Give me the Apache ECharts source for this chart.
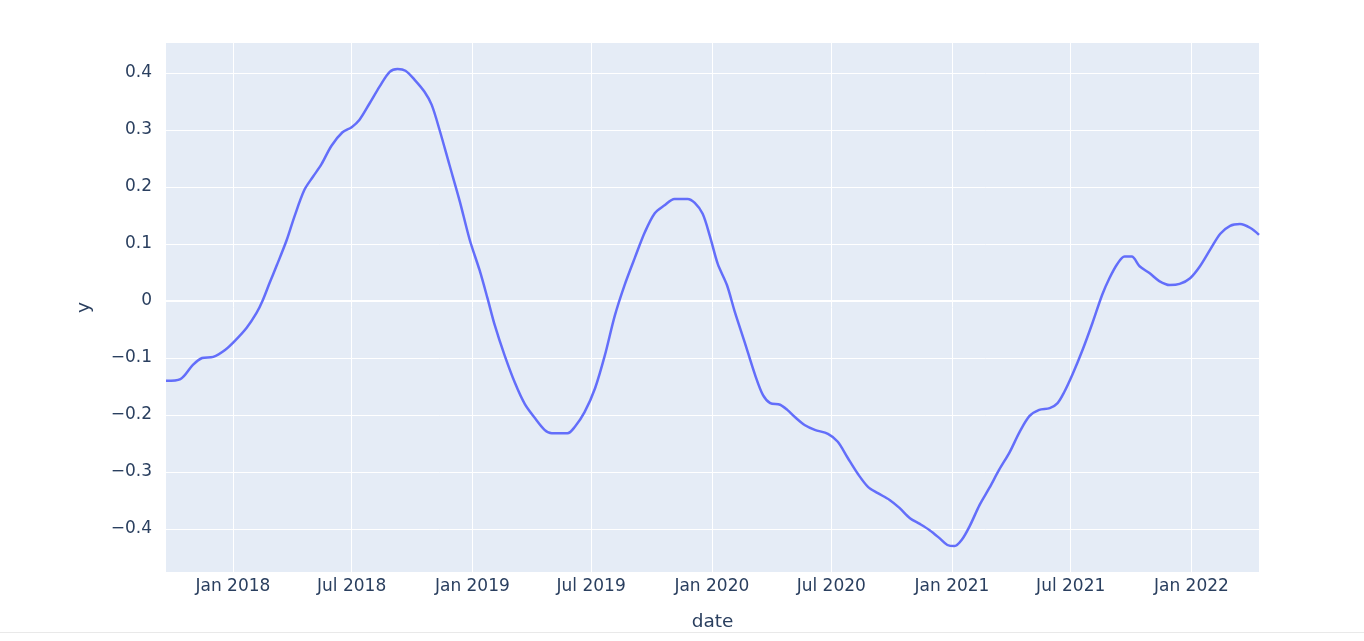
<!DOCTYPE html>
<html>
<head>
<meta charset="utf-8">
<script src="https://cdn.jsdelivr.net/npm/echarts@6/dist/echarts.min.js"></script>
<style>
  html, body { margin: 0; padding: 0; background: #fff; }
  #chart { width: 1364px; height: 641px; }
  .edge { position: absolute; left: 0; top: 632px; width: 1364px; height: 1px; background: #e9e9e9; }
</style>
</head>
<body>
<div id="chart"></div>
<div class="edge"></div>
<script>
// values
var dates = [
  '2017-09-21','2017-10-13','2017-11-01','2017-11-15','2017-12-02','2017-12-20',
  '2018-01-04','2018-01-22','2018-02-06','2018-02-15','2018-02-26','2018-03-09','2018-03-24',
  '2018-04-05','2018-04-20','2018-05-03','2018-05-16','2018-05-31','2018-06-17','2018-07-01',
  '2018-07-13','2018-07-28','2018-08-13','2018-08-28','2018-09-09','2018-09-21','2018-10-05',
  '2018-10-20','2018-10-31','2018-11-12','2018-11-27','2018-12-13','2018-12-28',
  '2019-01-12','2019-01-24','2019-02-04','2019-02-19','2019-03-07','2019-03-22','2019-04-06',
  '2019-04-21','2019-05-02','2019-05-26','2019-06-06','2019-06-21','2019-07-07','2019-07-22',
  '2019-08-06','2019-08-21','2019-09-06','2019-09-21','2019-10-06','2019-10-21','2019-11-05',
  '2019-11-25','2019-12-06','2019-12-18','2019-12-29',
  '2020-01-10','2020-01-24','2020-02-05','2020-02-20','2020-03-07','2020-03-19','2020-03-30',
  '2020-04-14','2020-04-25','2020-05-07','2020-05-22','2020-06-06','2020-06-26','2020-07-11',
  '2020-07-26','2020-08-11','2020-08-26','2020-09-10','2020-09-28','2020-10-13','2020-10-29',
  '2020-11-13','2020-11-28','2020-12-13','2020-12-25',
  '2021-01-05','2021-01-16','2021-01-28','2021-02-12','2021-02-27','2021-03-14','2021-03-30',
  '2021-04-14','2021-04-29','2021-05-14','2021-05-30','2021-06-11','2021-06-21','2021-07-04',
  '2021-07-19','2021-08-03','2021-08-18','2021-08-29','2021-09-10','2021-09-21','2021-10-02',
  '2021-10-14','2021-10-29','2021-11-13','2021-11-29','2021-12-14','2021-12-30',
  '2022-01-14','2022-01-30','2022-02-14','2022-03-01','2022-03-16','2022-04-01','2022-04-14'
];
var yvals = [
  -0.140,-0.137,-0.112,-0.100,-0.098,-0.086,
  -0.070,-0.047,-0.021,0.000,0.032,0.063,0.107,
  0.149,0.195,0.218,0.240,0.272,0.296,0.305,
  0.318,0.346,0.377,0.402,0.407,0.404,0.388,
  0.367,0.344,0.300,0.239,0.174,0.107,
  0.054,0.005,-0.042,-0.095,-0.144,-0.181,-0.205,
  -0.226,-0.232,-0.232,-0.221,-0.195,-0.153,-0.095,
  -0.026,0.028,0.077,0.121,0.154,0.168,0.179,
  0.179,0.172,0.153,0.114,
  0.065,0.028,-0.019,-0.072,-0.130,-0.165,-0.179,
  -0.182,-0.191,-0.204,-0.218,-0.226,-0.233,-0.247,
  -0.275,-0.304,-0.326,-0.337,-0.349,-0.363,-0.381,
  -0.391,-0.402,-0.416,-0.428,
  -0.430,-0.419,-0.395,-0.358,-0.328,-0.296,-0.265,
  -0.230,-0.202,-0.191,-0.188,-0.179,-0.160,-0.128,
  -0.086,-0.039,0.011,0.040,0.065,0.078,0.078,
  0.061,0.049,0.035,0.028,0.030,0.040,
  0.061,0.091,0.118,0.132,0.135,0.128,0.116
];
var xTicks = ['2018-01-01','2018-07-01','2019-01-01','2019-07-01','2020-01-01','2020-07-01','2021-01-01','2021-07-01','2022-01-01'];
var yTicks = [-0.4, -0.3, -0.2, -0.1, 0, 0.1, 0.2, 0.3, 0.4];
var xRange = ['2017-09-21', '2022-04-14'];
var yRange = [-0.4754, 0.4526];

var monthNames = ['Jan','Feb','Mar','Apr','May','Jun','Jul','Aug','Sep','Oct','Nov','Dec'];
function ts(d) { return Date.UTC(+d.slice(0, 4), +d.slice(5, 7) - 1, +d.slice(8, 10)); }
var tickTimes = xTicks.map(ts);

var chart = echarts.init(document.getElementById('chart'), null, { renderer: 'canvas' });
var fontFam = 'DejaVu Sans, sans-serif';
var txtColor = '#2a3f5f';

var option = {
  animation: false,
  backgroundColor: '#fff',
  grid: { left: 166, right: 105, top: 43, bottom: 69, show: true, backgroundColor: '#E5ECF6', borderWidth: 0 },
  xAxis: {
    type: 'value',
    min: ts(xRange[0]),
    max: ts(xRange[1]),
    name: 'date',
    nameLocation: 'middle',
    nameGap: 41,
    nameTextStyle: { color: txtColor, fontSize: 18.5, fontFamily: fontFam },
    axisLine: { show: false },
    axisTick: { show: false, customValues: tickTimes },
    splitLine: { show: true, lineStyle: { color: '#fff', width: 1 } },
    axisLabel: {
      customValues: tickTimes,
      color: txtColor, fontSize: 17, fontFamily: fontFam, margin: 6,
      formatter: function (v) {
        var d = new Date(v);
        return monthNames[d.getUTCMonth()] + ' ' + d.getUTCFullYear();
      }
    }
  },
  yAxis: {
    type: 'value',
    min: yRange[0],
    max: yRange[1],
    name: 'y',
    nameLocation: 'middle',
    nameRotate: 90,
    nameGap: 72,
    nameTextStyle: { color: txtColor, fontSize: 18.5, fontFamily: fontFam },
    axisLine: { show: false },
    axisTick: { show: false, customValues: yTicks },
    splitLine: { show: true, lineStyle: { color: '#fff', width: 1 } },
    axisLabel: {
      customValues: yTicks,
      color: txtColor, fontSize: 17, fontFamily: fontFam, margin: 14,
      padding: [3, 0, 0, 0],
      formatter: function (v) {
        var r = Math.round(v * 10) / 10;
        if (r === 0) return '0';
        return (r < 0 ? '\u2212' : '') + Math.abs(r).toFixed(1);
      }
    }
  },
  series: [
    {
      type: 'line',
      data: [[ts(xRange[0]), 0], [ts(xRange[1]), 0]],
      symbol: 'none',
      silent: true,
      z: 1,
      lineStyle: { color: '#fff', width: 2 }
    },
    {
      type: 'line',
      data: dates.map(function (d, i) { return [ts(d), yvals[i]]; }),
      symbol: 'none',
      smooth: 0.3,
      z: 3,
      lineStyle: { color: '#636EFA', width: 2.5 }
    }
  ]
};
chart.setOption(option);
</script>
</body>
</html>
